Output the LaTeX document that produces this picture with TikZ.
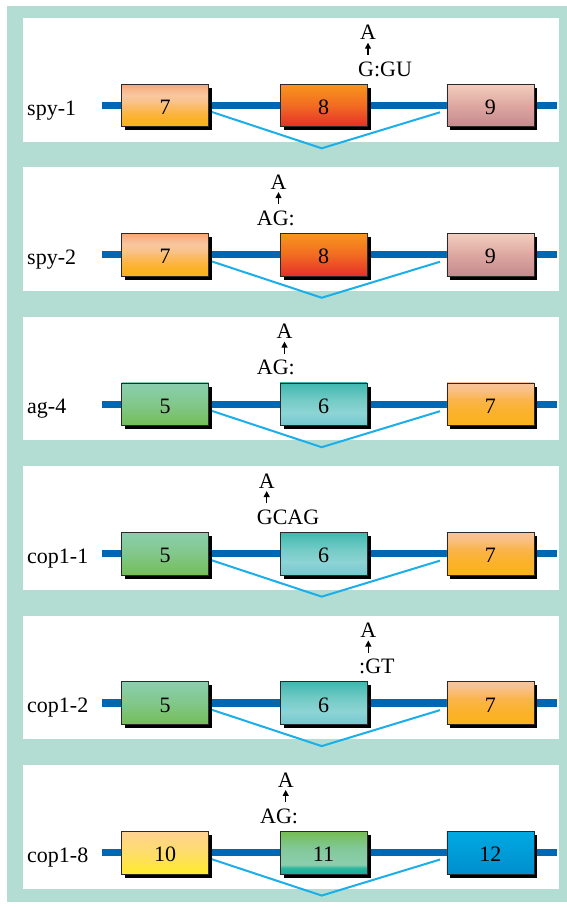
\documentclass[tikz,border=0pt]{standalone}
\usepackage{fontspec}
\setmainfont{Liberation Serif}
\usetikzlibrary{shadows,arrows.meta}

\definecolor{tealbg}{HTML}{B3DDD3}
\definecolor{backb}{HTML}{0067B2}
\definecolor{splicec}{HTML}{1AAFEA}
\definecolor{boxline}{HTML}{2A2A2A}

% orange exon (spy rows)
\definecolor{oAa}{HTML}{FBB21C}\definecolor{oAb}{HTML}{FBB22A}\definecolor{oAc}{HTML}{FBB855}
\definecolor{oAd}{HTML}{F9C38C}\definecolor{oAe}{HTML}{F9C7A0}\definecolor{oAf}{HTML}{F8B88E}\definecolor{oAg}{HTML}{F6A674}
\pgfdeclareverticalshading{shOrangeA}{100bp}{color(0bp)=(oAa); color(25bp)=(oAa); color(35bp)=(oAb); color(45bp)=(oAc); color(55bp)=(oAd); color(62bp)=(oAe); color(68bp)=(oAf); color(75bp)=(oAg); color(100bp)=(oAg)}
% red exon
\definecolor{rda}{HTML}{E52F2A}\definecolor{rdb}{HTML}{F26B22}\definecolor{rdc}{HTML}{F7961D}
\pgfdeclareverticalshading{shRed}{100bp}{color(0bp)=(rda); color(25bp)=(rda); color(50bp)=(rdb); color(75bp)=(rdc); color(100bp)=(rdc)}
% pink exon
\definecolor{pka}{HTML}{C48A8E}\definecolor{pkb}{HTML}{DDA7A0}\definecolor{pkc}{HTML}{F3CEBD}
\pgfdeclareverticalshading{shPink}{100bp}{color(0bp)=(pka); color(25bp)=(pka); color(50bp)=(pkb); color(75bp)=(pkc); color(100bp)=(pkc)}
% green exon
\definecolor{gna}{HTML}{74BE57}\definecolor{gnb}{HTML}{82C78A}\definecolor{gnc}{HTML}{8ACFAE}
\pgfdeclareverticalshading{shGreen}{100bp}{color(0bp)=(gna); color(25bp)=(gna); color(50bp)=(gnb); color(75bp)=(gnc); color(100bp)=(gnc)}
% teal exon
\definecolor{tla}{HTML}{72C8CF}\definecolor{tlb}{HTML}{8DD4D5}\definecolor{tlc}{HTML}{74CBC6}\definecolor{tld}{HTML}{3FB8AF}
\pgfdeclareverticalshading{shTeal}{100bp}{color(0bp)=(tla); color(25bp)=(tla); color(40bp)=(tlb); color(55bp)=(tlc); color(75bp)=(tld); color(100bp)=(tld)}
% orange exon (other rows)
\definecolor{oBa}{HTML}{FBB21B}\definecolor{oBb}{HTML}{FBB22A}\definecolor{oBc}{HTML}{FBB44A}\definecolor{oBd}{HTML}{F9BE7E}\definecolor{oBe}{HTML}{F8C49D}
\pgfdeclareverticalshading{shOrangeB}{100bp}{color(0bp)=(oBa); color(25bp)=(oBa); color(40bp)=(oBb); color(55bp)=(oBc); color(65bp)=(oBd); color(75bp)=(oBe); color(100bp)=(oBe)}
% yellow exon
\definecolor{ywa}{HTML}{FFEA2B}\definecolor{ywb}{HTML}{FFDD6A}\definecolor{ywc}{HTML}{FFD293}
\pgfdeclareverticalshading{shYellow}{100bp}{color(0bp)=(ywa); color(25bp)=(ywa); color(50bp)=(ywb); color(75bp)=(ywc); color(100bp)=(ywc)}
% green/teal exon 11
\definecolor{gTa}{HTML}{12AE97}\definecolor{gTb}{HTML}{2DB69F}\definecolor{gTc}{HTML}{8BCFAE}\definecolor{gTd}{HTML}{82C89A}\definecolor{gTe}{HTML}{74BD52}
\pgfdeclareverticalshading{shGreenTeal}{100bp}{color(0bp)=(gTa); color(25bp)=(gTa); color(32bp)=(gTb); color(36bp)=(gTc); color(55bp)=(gTd); color(75bp)=(gTe); color(100bp)=(gTe)}
% blue exon
\definecolor{bla}{HTML}{008ECE}\definecolor{blb}{HTML}{00A9E2}
\pgfdeclareverticalshading{shBlue}{100bp}{color(0bp)=(bla); color(25bp)=(bla); color(75bp)=(blb); color(100bp)=(blb)}

\tikzset{
  backbone/.style={draw=backb, line width=7.3pt},
  splice/.style={draw=splicec, line width=2pt, line join=miter},
  exon/.style={draw=boxline, line width=0.7pt, minimum width=87pt, minimum height=42.7pt,
    inner sep=0pt, text height=18pt, text depth=0pt, font=\fontsize{22}{22}\selectfont,
    drop shadow={shadow xshift=3.6pt, shadow yshift=-3.6pt, fill=black, opacity=1}},
  rowname/.style={anchor=base west, inner sep=0pt, font=\fontsize{22}{22}\selectfont},
  mut/.style={inner sep=0pt, font=\fontsize{22}{22}\selectfont},
  mutarrow/.style={draw=black, line width=1.3pt, shorten >=2.5pt, -{Triangle[width=6pt,length=6pt]}}
}

\newcommand\generow[9]{%
\begin{scope}[shift={(0,#2)}]
  \fill[white] (22.7,0) rectangle (559,123.5);
  \coordinate (L#1) at (102,87.3);
  \coordinate (R#1) at (557,87.3);
  \draw[backbone] (L#1) -- (R#1);
  \node[rowname] (n#1) at (27,97) {#3};
  \coordinate (s#1) at (211,93.7);
  \coordinate (v#1) at (321.7,130.3);
  \coordinate (e#1) at (440,94.3);
  \draw[splice] (s#1) -- (v#1) -- (e#1);
  \node[exon, shade, shading=#4] (a#1) at (165.2,87.35) {#5};
  \node[exon, shade, shading=#6] (b#1) at (323.5,87.35) {#7};
  \node[exon, shade, shading=#8] (c#1) at (490.35,87.35) {#9};
\end{scope}}

\newcommand\mutation[5]{%
\begin{scope}[shift={(0,#2)}]
  \node[mut, anchor=base] (ma#1) at (#3,22) {A};
  \node[mut, anchor=base west] (mt#1) at (#5,58) {#4};
  \coordinate (mb#1) at (#3,37);
  \draw[mutarrow] (mb#1) -- (ma#1.south);
\end{scope}}

\begin{document}
\begin{tikzpicture}[x=1pt,y=-1pt]
  \useasboundingbox (0,0) rectangle (567,907);
  \fill[tealbg] (7,6) rectangle (567,902);

  \generow{r1}{18}{spy-1}{shOrangeA}{7}{shRed}{8}{shPink}{9}
  \mutation{r1}{18}{368}{G:GU}{358}

  \generow{r2}{167.45}{spy-2}{shOrangeA}{7}{shRed}{8}{shPink}{9}
  \mutation{r2}{167.45}{278.5}{AG:}{256.7}

  \generow{r3}{316.9}{ag-4}{shGreen}{5}{shTeal}{6}{shOrangeB}{7}
  \mutation{r3}{316.9}{284.5}{AG:}{256.7}

  \generow{r4}{466.35}{cop1-1}{shGreen}{5}{shTeal}{6}{shOrangeB}{7}
  \mutation{r4}{466.35}{266.7}{GCAG}{256.7}

  \generow{r5}{615.8}{cop1-2}{shGreen}{5}{shTeal}{6}{shOrangeB}{7}
  \mutation{r5}{615.8}{368.3}{:GT}{359}

  \generow{r6}{765.25}{cop1-8}{shYellow}{10}{shGreenTeal}{11}{shBlue}{12}
  \mutation{r6}{765.25}{285.7}{AG:}{260}
\end{tikzpicture}
\end{document}
